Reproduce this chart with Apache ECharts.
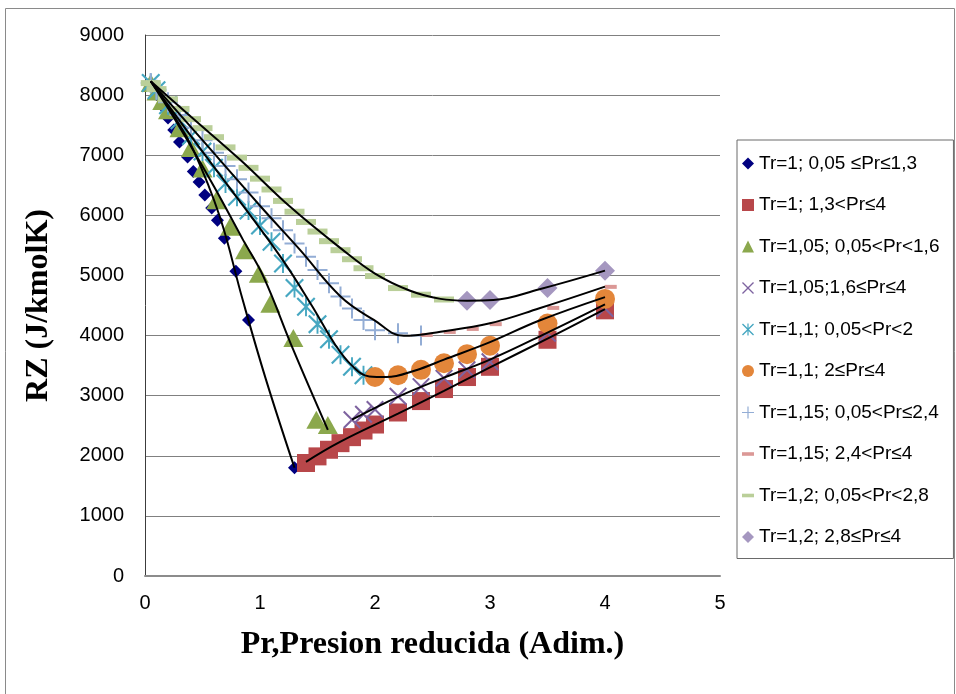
<!DOCTYPE html>
<html>
<head>
<meta charset="utf-8">
<script src="https://cdn.jsdelivr.net/npm/echarts@6/dist/echarts.min.js"></script>
<style>
html, body { margin: 0; padding: 0; background: #fff; }
#chart { width: 956px; height: 694px; }
</style>
</head>
<body>
<div id="chart"></div>
<script>
// Tr = 1
const tr100Low = [[0.05,8200],[0.1,8010],[0.15,7820],[0.2,7620],[0.25,7420],[0.3,7220],[0.37,6970],[0.42,6730],[0.47,6555],[0.52,6340],[0.58,6120],[0.63,5920],[0.69,5620],[0.79,5070],[0.9,4260],[1.3,1800]]
const tr100High = [[1.4,1880],[1.5,1990],[1.6,2100],[1.7,2210],[1.8,2310],[1.9,2420],[2.0,2520],[2.2,2720],[2.4,2910],[2.6,3110],[2.8,3310],[3.0,3480],[3.5,3930],[4.0,4420]]
// Tr = 1,05
const tr105Low = [[0.05,8200],[0.1,8060],[0.15,7900],[0.2,7750],[0.3,7450],[0.4,7120],[0.5,6780],[0.62,6250],[0.74,5810],[0.87,5420],[0.99,5030],[1.09,4530],[1.29,3960],[1.49,2600],[1.59,2510]]
const tr105High = [[1.8,2600],[1.9,2690],[2.0,2770],[2.2,2990],[2.4,3150],[2.6,3290],[2.8,3430],[3.0,3565],[3.5,4040],[4.0,4450]]
// Tr = 1,1
const tr110Low = [[0.05,8200],[0.1,8080],[0.2,7830],[0.3,7580],[0.4,7320],[0.5,7060],[0.6,6790],[0.7,6530],[0.8,6310],[0.9,6080],[1.0,5830],[1.1,5560],[1.2,5200],[1.3,4790],[1.4,4480],[1.5,4190],[1.6,3940],[1.7,3680],[1.8,3480],[1.9,3340]]
const tr110High = [[2.0,3310],[2.2,3340],[2.4,3430],[2.6,3540],[2.8,3690],[3.0,3830],[3.5,4200],[4.0,4610]]
// Tr = 1,15
const tr115Low = [[0.05,8200],[0.1,8090],[0.2,7880],[0.3,7670],[0.4,7460],[0.5,7250],[0.6,7040],[0.7,6820],[0.8,6600],[0.9,6380],[1.0,6150],[1.1,5950],[1.2,5750],[1.3,5530],[1.4,5310],[1.5,5090],[1.6,4870],[1.7,4650],[1.8,4450],[1.9,4260],[2.0,4090],[2.2,4040],[2.4,4000]]
const tr115High = [[2.45,4010],[2.65,4060],[2.85,4110],[3.05,4190],[3.55,4460],[4.05,4810]]
// Tr = 1,2
const tr120Low = [[0.05,8200],[0.1,8100],[0.2,7930],[0.3,7770],[0.4,7600],[0.5,7450],[0.6,7300],[0.7,7130],[0.8,6960],[0.9,6790],[1.0,6610],[1.1,6430],[1.2,6240],[1.3,6060],[1.4,5890],[1.5,5730],[1.6,5570],[1.7,5420],[1.8,5270],[1.9,5120],[2.0,4990],[2.2,4790],[2.4,4680],[2.6,4600]]
const tr120High = [[2.8,4580],[3.0,4590],[3.5,4790],[4.0,5080]]

// black trend lines
const trend100Low = [[0.05,8230],[0.25,7660],[0.42,7090],[0.65,5980],[0.85,4590],[1.05,3280],[1.3,1800]]
const trend100High = [[1.4,1900],[1.7,2235],[2.2,2700],[2.6,3080],[3.0,3470],[3.5,3950],[4.0,4440]]
const trend105Low = [[0.05,8230],[0.3,7470],[0.6,6480],[0.85,5600],[1.03,4980],[1.29,3760],[1.59,2430]]
const trend105High = [[1.8,2600],[2.2,2980],[2.6,3300],[3.0,3600],[3.5,4050],[4.0,4520]]
const trend110 = [[0.05,8230],[0.5,7060],[0.9,6040],[1.2,5250],[1.45,4500],[1.65,3860],[1.8,3500],[1.95,3320],[2.1,3310],[2.35,3420],[2.6,3600],[3.0,3890],[3.43,4250],[4.0,4640]]
const trend115 = [[0.05,8230],[0.5,7250],[1.0,6160],[1.35,5420],[1.7,4650],[1.99,4260],[2.25,3995],[2.57,4065],[3.0,4204],[3.43,4454],[4.0,4814]]
const trend120 = [[0.05,8230],[0.4,7640],[0.83,6920],[1.26,6145],[1.7,5455],[2.0,5030],[2.3,4750],[2.57,4610],[2.8,4580],[3.03,4590],[3.43,4770],[4.0,5080]]

const names = [
    'Tr=1; 0,05 ≤Pr≤1,3',
    'Tr=1; 1,3<Pr≤4',
    'Tr=1,05; 0,05<Pr<1,6',
    'Tr=1,05;1,6≤Pr≤4',
    'Tr=1,1; 0,05<Pr<2',
    'Tr=1,1; 2≤Pr≤4',
    'Tr=1,15; 0,05<Pr≤2,4',
    'Tr=1,15; 2,4<Pr≤4',
    'Tr=1,2; 0,05<Pr<2,8',
    'Tr=1,2; 2,8≤Pr≤4'
]

const xPath = 'path://M0.8,0L5,4.2L9.2,0L10,0.8L5.8,5L10,9.2L9.2,10L5,5.8L0.8,10L0,9.2L4.2,5L0,0.8Z'
const starPath = xPath + 'M4.5,0H5.5V10H4.5Z'
const plusPath = 'path://M4.5,0H5.5V4.5H10V5.5H5.5V10H4.5V5.5H0V4.5H4.5Z'
const dashPath = 'path://M0,0H10V3H0Z'

const markers = [
    { data: tr100Low, symbol: 'diamond', size: 13, color: '#000080' },
    { data: tr100High, symbol: 'rect', size: 18, color: '#B8474A' },
    { data: tr105Low, symbol: 'triangle', size: [20, 18], color: '#8BA84D' },
    { data: tr105High, symbol: xPath, size: 18, color: '#7E63A0' },
    { data: tr110Low, symbol: starPath, size: 19, color: '#46A7C1' },
    { data: tr110High, symbol: 'circle', size: 20, color: '#E3863A' },
    { data: tr115Low, symbol: plusPath, size: 20, color: '#93ADD5' },
    { data: tr115High, symbol: 'rect', size: [12, 4], color: '#DB9896' },
    { data: tr120Low, symbol: 'rect', size: [20, 6], color: '#BACF99' },
    { data: tr120High, symbol: 'diamond', size: 20, color: '#A597C0' }
]
const legendIcons = ['diamond', 'rect', 'triangle', xPath, starPath, 'circle', plusPath, dashPath, dashPath, 'diamond']

const trends = [trend100Low, trend100High, trend105Low, trend105High, trend110, trend115, trend120]

const chart = echarts.init(document.getElementById('chart'))

const series = markers.map((m, i) => ({
    name: names[i],
    type: 'scatter',
    data: m.data,
    symbol: m.symbol,
    symbolSize: m.size,
    itemStyle: { color: m.color, opacity: 1 },
    z: 2
})).concat(trends.map((d, i) => ({
    name: 'trend' + i,
    type: 'line',
    data: d,
    smooth: 0.4,
    symbol: 'none',
    silent: true,
    lineStyle: { color: '#000', width: 2 },
    z: 3
})))

const option = {
    animation: false,
    backgroundColor: '#fff',
    graphic: [{
        type: 'rect',
        shape: { x: 5.5, y: 8.5, width: 949, height: 700 },
        style: { fill: 'none', stroke: '#8a8a8a', lineWidth: 1 },
        silent: true
    }],
    grid: { left: 145, right: 236, top: 35, bottom: 118 },
    legend: {
        orient: 'vertical',
        left: 737,
        top: 140,
        padding: [14, 14, 12, 5],
        itemWidth: 12,
        itemHeight: 12,
        itemGap: 22.5,
        borderColor: '#6a6a6a',
        borderWidth: 1,
        textStyle: { fontFamily: 'Liberation Sans, Arial, sans-serif', fontSize: 19, color: '#000' },
        data: names.map((n, i) => ({ name: n, icon: legendIcons[i] }))
    },
    xAxis: {
        type: 'value',
        min: 0,
        max: 5,
        interval: 1,
        name: 'Pr,Presion reducida (Adim.)',
        nameLocation: 'middle',
        nameGap: 53,
        nameTextStyle: { fontFamily: 'Liberation Serif, Times New Roman, serif', fontWeight: 'bold', fontSize: 32, color: '#000' },
        axisLine: { show: true, lineStyle: { color: '#8c8c8c', width: 2 } },
        axisTick: { show: false },
        splitLine: { show: false },
        axisLabel: { margin: 17, fontFamily: 'Liberation Sans, Arial, sans-serif', fontSize: 20, color: '#000' }
    },
    yAxis: {
        type: 'value',
        min: 0,
        max: 9000,
        interval: 1000,
        name: 'RZ (J/kmolK)',
        nameLocation: 'middle',
        nameGap: 90,
        nameTextStyle: { fontFamily: 'Liberation Serif, Times New Roman, serif', fontWeight: 'bold', fontSize: 32, color: '#000' },
        axisLine: { show: true, lineStyle: { color: '#3c3c3c', width: 1 } },
        axisTick: { show: false },
        splitLine: { show: true, lineStyle: { color: '#808080', width: 1 } },
        axisLabel: { margin: 21, fontFamily: 'Liberation Sans, Arial, sans-serif', fontSize: 20, color: '#000', formatter: v => String(v) }
    },
    series: series
}

chart.setOption(option)
</script>
</body>
</html>
